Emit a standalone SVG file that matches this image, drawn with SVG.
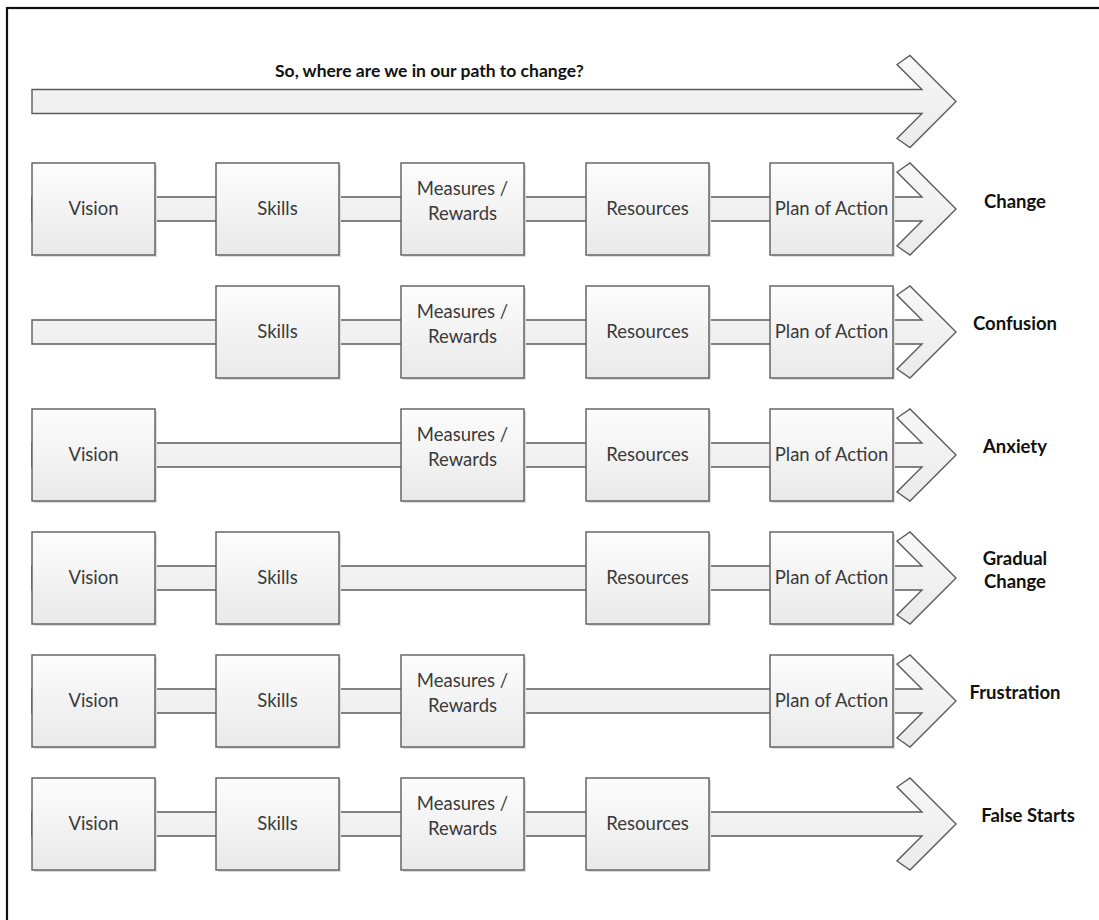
<svg xmlns="http://www.w3.org/2000/svg" xmlns:xlink="http://www.w3.org/1999/xlink" width="1099" height="920" viewBox="0 0 1099 920">
<defs>
<linearGradient id="gb" x1="0" y1="0" x2="0" y2="1"><stop offset="0" stop-color="#fdfdfd"/><stop offset="1" stop-color="#e9e9e9"/></linearGradient>
<linearGradient id="ga" x1="0" y1="0" x2="0" y2="1"><stop offset="0" stop-color="#f8f8f8"/><stop offset="0.5" stop-color="#f1f1f1"/><stop offset="1" stop-color="#ebebeb"/></linearGradient>
<path id="arr" d="M32,-12 H922 L897,-37 L910,-46 L956,0 L910,46 L897,37 L922,12 H32 Z"/>
<style>
.frame{fill:none;stroke:#111;stroke-width:2.2}
.arrow{fill:url(#ga);stroke:#5c5c5c;stroke-width:1.4;stroke-linejoin:miter}
.box{fill:url(#gb);stroke:#5c5c5c;stroke-width:1.4}
.sh{fill:#dcdcdc}
.t{font-family:Lato,"Open Sans","Liberation Sans",sans-serif;font-size:18.5px;fill:#3a3a3a;text-anchor:middle}
.lb{font-family:Lato,"Open Sans","Liberation Sans",sans-serif;font-weight:bold;font-size:18.5px;fill:#111;text-anchor:middle}
.title{font-family:Lato,"Open Sans","Liberation Sans",sans-serif;font-weight:bold;font-size:17.5px;fill:#111}
</style>
</defs>
<rect width="1099" height="920" fill="#fff"/>
<rect class="frame" x="7" y="8" width="1110" height="930"/>
<text class="title" x="275" y="77">So, where are we in our path to change?</text>

<g id="connectors">
<use xlink:href="#arr" class="arrow" transform="translate(0,101.5)"/>
<use xlink:href="#arr" class="arrow" transform="translate(0,209)"/>
<use xlink:href="#arr" class="arrow" transform="translate(0,332)"/>
<use xlink:href="#arr" class="arrow" transform="translate(0,455)"/>
<use xlink:href="#arr" class="arrow" transform="translate(0,578)"/>
<use xlink:href="#arr" class="arrow" transform="translate(0,701)"/>
<use xlink:href="#arr" class="arrow" transform="translate(0,824)"/>
</g>

<!-- Row 1: Change -->
<g id="r1-vision"><rect class="sh" x="34" y="165" width="123" height="92"/><rect class="box" x="32" y="163" width="123" height="92"/><text class="t" x="93.5" y="215">Vision</text></g>
<g id="r1-skills"><rect class="sh" x="218" y="165" width="123" height="92"/><rect class="box" x="216" y="163" width="123" height="92"/><text class="t" x="277.5" y="215">Skills</text></g>
<g id="r1-measures"><rect class="sh" x="403" y="165" width="123" height="92"/><rect class="box" x="401" y="163" width="123" height="92"/><text class="t" x="462.5" y="195">Measures /</text><text class="t" x="462.5" y="220">Rewards</text></g>
<g id="r1-resources"><rect class="sh" x="588" y="165" width="123" height="92"/><rect class="box" x="586" y="163" width="123" height="92"/><text class="t" x="647.5" y="215">Resources</text></g>
<g id="r1-plan"><rect class="sh" x="772" y="165" width="123" height="92"/><rect class="box" x="770" y="163" width="123" height="92"/><text class="t" x="831.5" y="215">Plan of Action</text></g>
<g id="r1-label"><text class="lb" x="1015" y="208">Change</text></g>

<!-- Row 2: Confusion -->
<g id="r2-skills"><rect class="sh" x="218" y="288" width="123" height="92"/><rect class="box" x="216" y="286" width="123" height="92"/><text class="t" x="277.5" y="338">Skills</text></g>
<g id="r2-measures"><rect class="sh" x="403" y="288" width="123" height="92"/><rect class="box" x="401" y="286" width="123" height="92"/><text class="t" x="462.5" y="318">Measures /</text><text class="t" x="462.5" y="343">Rewards</text></g>
<g id="r2-resources"><rect class="sh" x="588" y="288" width="123" height="92"/><rect class="box" x="586" y="286" width="123" height="92"/><text class="t" x="647.5" y="338">Resources</text></g>
<g id="r2-plan"><rect class="sh" x="772" y="288" width="123" height="92"/><rect class="box" x="770" y="286" width="123" height="92"/><text class="t" x="831.5" y="338">Plan of Action</text></g>
<g id="r2-label"><text class="lb" x="1015" y="330">Confusion</text></g>

<!-- Row 3: Anxiety -->
<g id="r3-vision"><rect class="sh" x="34" y="411" width="123" height="92"/><rect class="box" x="32" y="409" width="123" height="92"/><text class="t" x="93.5" y="461">Vision</text></g>
<g id="r3-measures"><rect class="sh" x="403" y="411" width="123" height="92"/><rect class="box" x="401" y="409" width="123" height="92"/><text class="t" x="462.5" y="441">Measures /</text><text class="t" x="462.5" y="466">Rewards</text></g>
<g id="r3-resources"><rect class="sh" x="588" y="411" width="123" height="92"/><rect class="box" x="586" y="409" width="123" height="92"/><text class="t" x="647.5" y="461">Resources</text></g>
<g id="r3-plan"><rect class="sh" x="772" y="411" width="123" height="92"/><rect class="box" x="770" y="409" width="123" height="92"/><text class="t" x="831.5" y="461">Plan of Action</text></g>
<g id="r3-label"><text class="lb" x="1015" y="453">Anxiety</text></g>

<!-- Row 4: Gradual Change -->
<g id="r4-vision"><rect class="sh" x="34" y="534" width="123" height="92"/><rect class="box" x="32" y="532" width="123" height="92"/><text class="t" x="93.5" y="584">Vision</text></g>
<g id="r4-skills"><rect class="sh" x="218" y="534" width="123" height="92"/><rect class="box" x="216" y="532" width="123" height="92"/><text class="t" x="277.5" y="584">Skills</text></g>
<g id="r4-resources"><rect class="sh" x="588" y="534" width="123" height="92"/><rect class="box" x="586" y="532" width="123" height="92"/><text class="t" x="647.5" y="584">Resources</text></g>
<g id="r4-plan"><rect class="sh" x="772" y="534" width="123" height="92"/><rect class="box" x="770" y="532" width="123" height="92"/><text class="t" x="831.5" y="584">Plan of Action</text></g>
<g id="r4-label"><text class="lb" x="1015" y="565">Gradual</text><text class="lb" x="1015" y="588">Change</text></g>

<!-- Row 5: Frustration -->
<g id="r5-vision"><rect class="sh" x="34" y="657" width="123" height="92"/><rect class="box" x="32" y="655" width="123" height="92"/><text class="t" x="93.5" y="707">Vision</text></g>
<g id="r5-skills"><rect class="sh" x="218" y="657" width="123" height="92"/><rect class="box" x="216" y="655" width="123" height="92"/><text class="t" x="277.5" y="707">Skills</text></g>
<g id="r5-measures"><rect class="sh" x="403" y="657" width="123" height="92"/><rect class="box" x="401" y="655" width="123" height="92"/><text class="t" x="462.5" y="687">Measures /</text><text class="t" x="462.5" y="712">Rewards</text></g>
<g id="r5-plan"><rect class="sh" x="772" y="657" width="123" height="92"/><rect class="box" x="770" y="655" width="123" height="92"/><text class="t" x="831.5" y="707">Plan of Action</text></g>
<g id="r5-label"><text class="lb" x="1015" y="699">Frustration</text></g>

<!-- Row 6: False Starts -->
<g id="r6-vision"><rect class="sh" x="34" y="780" width="123" height="92"/><rect class="box" x="32" y="778" width="123" height="92"/><text class="t" x="93.5" y="830">Vision</text></g>
<g id="r6-skills"><rect class="sh" x="218" y="780" width="123" height="92"/><rect class="box" x="216" y="778" width="123" height="92"/><text class="t" x="277.5" y="830">Skills</text></g>
<g id="r6-measures"><rect class="sh" x="403" y="780" width="123" height="92"/><rect class="box" x="401" y="778" width="123" height="92"/><text class="t" x="462.5" y="810">Measures /</text><text class="t" x="462.5" y="835">Rewards</text></g>
<g id="r6-resources"><rect class="sh" x="588" y="780" width="123" height="92"/><rect class="box" x="586" y="778" width="123" height="92"/><text class="t" x="647.5" y="830">Resources</text></g>
<g id="r6-label"><text class="lb" x="1028" y="822">False Starts</text></g>
</svg>
